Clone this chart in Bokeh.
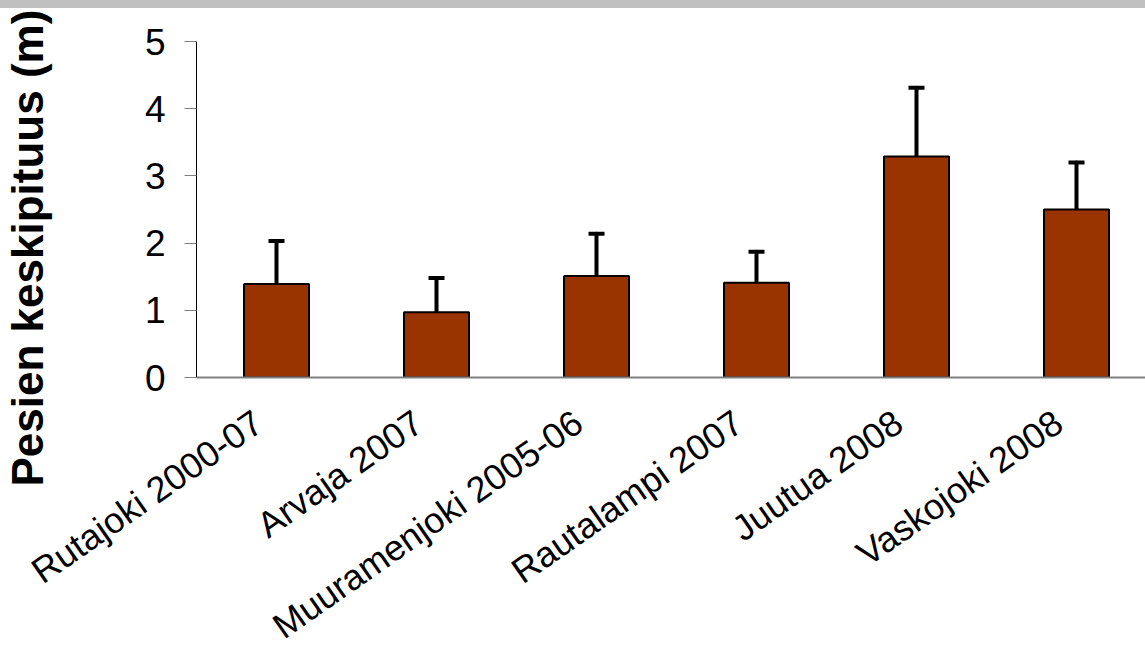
import numpy as np
from bokeh.plotting import figure
from bokeh.layouts import column
from bokeh.models import (ColumnDataSource, Range1d, FixedTicker, Title,
                          Whisker, TeeHead, Spacer)
from bokeh.embed import file_html
from bokeh.resources import INLINE

categories = ["Rutajoki 2000-07", "Arvaja 2007", "Muuramenjoki 2005-06",
              "Rautalampi 2007", "Juutua 2008", "Vaskojoki 2008"]
means = [1.39, 0.97, 1.51, 1.41, 3.29, 2.50]
upper = [2.03, 1.48, 2.14, 1.87, 4.31, 3.20]
y_ticks = [0, 1, 2, 3, 4, 5]
y_title = "Pesien keskipituus (m)"

FONT = "Liberation Sans"
CAT_W = 160.0  # pixels per category
pos = [float(i) + 0.5 for i in range(len(categories))]

src = ColumnDataSource(dict(x=pos, top=means, upper=upper))

p = figure(width=1145, height=658, output_backend="svg", toolbar_location=None,
           x_range=Range1d(0, (1145 - 196) / CAT_W), y_range=Range1d(0, 5),
           min_border_left=196, min_border_right=0, min_border_top=33,
           min_border_bottom=288)
p.outline_line_color = None
p.xgrid.grid_line_color = None
p.ygrid.grid_line_color = None
p.background_fill_color = "white"
p.border_fill_color = "white"

p.vbar(x="x", top="top", width=0.406, source=src, fill_color="#993300",
       line_color="black", line_width=2)

w = Whisker(base="x", upper="upper", lower="top", source=src,
            line_color="black", line_width=4, line_cap="round",
            upper_head=TeeHead(size=16, line_width=4, line_color="black"),
            lower_head=None)
p.add_layout(w)

# y axis
p.yaxis.ticker = FixedTicker(ticks=y_ticks)
p.yaxis.axis_line_color = "black"
p.yaxis.axis_line_width = 1
p.yaxis.major_tick_line_color = "#808080"
p.yaxis.major_tick_out = 12
p.yaxis.major_tick_in = 0
p.yaxis.minor_tick_line_color = None
p.yaxis.major_label_text_font = FONT
p.yaxis.major_label_text_font_size = "37px"
p.yaxis.major_label_text_color = "black"
p.yaxis.major_label_standoff = 19

# x axis with rotated category labels (label anchor nudged left like Excel)
label_ticks = [x - 18 / CAT_W for x in pos]
p.xaxis.ticker = FixedTicker(ticks=label_ticks)
p.xaxis.major_label_overrides = {x: c for x, c in zip(label_ticks, categories)}
p.xaxis.major_label_orientation = float(np.deg2rad(35))
p.xaxis.axis_line_color = "#808080"
p.xaxis.axis_line_width = 2
p.xaxis.major_tick_line_color = None
p.xaxis.major_tick_out = 0
p.xaxis.major_tick_in = 0
p.xaxis.minor_tick_line_color = None
p.xaxis.major_label_text_font = FONT
p.xaxis.major_label_text_font_size = "36px"
p.xaxis.major_label_text_color = "black"
p.xaxis.major_label_standoff = 41

# spacing panel, then the rotated y title further out on the left
gap = Title(text=" ", standoff=85, text_font_size="1px")
p.add_layout(gap, "left")
t = Title(text=y_title, align="left", offset=-109, vertical_align="top",
          standoff=0, text_font=FONT, text_font_size="44px",
          text_font_style="bold", text_color="black")
p.add_layout(t, "left")

band = Spacer(width=1145, height=8, styles={"background-color": "#c0c0c0"})
layout = column(band, p, spacing=0)

open("out.html", "w").write(file_html(layout, INLINE))
